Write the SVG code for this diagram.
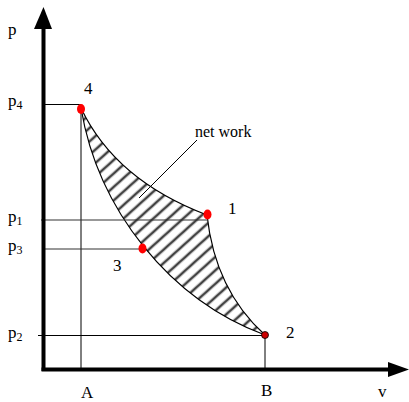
<svg xmlns="http://www.w3.org/2000/svg" width="409" height="402" viewBox="0 0 409 402">
<style>
.t{font-family:"Liberation Serif","Times New Roman",serif;font-size:17px;fill:#000}
.s{font-size:12px}
.thin{stroke:#000;stroke-width:1;fill:none}
.gl{stroke:#333;stroke-width:1.2;fill:none}
.ax{stroke:#000;stroke-width:4;fill:none}
.dot{fill:#f00}
</style>
<defs>
<pattern id="hatch" patternUnits="userSpaceOnUse" width="10" height="10" patternTransform="rotate(-42)">
<rect width="10" height="10" fill="#fff"/>
<line x1="0" y1="5" x2="10" y2="5" stroke="#222" stroke-width="2.6" opacity="0.85"/>
</pattern>
</defs>
<g id="connectors">
<path d="M81,108 C98,210 170,300 265,335 Q215,290 207,215 Q115,180 81,108 Z" fill="url(#hatch)" stroke="#000" stroke-width="1.2"/>
<line class="thin" x1="43" y1="104.5" x2="81" y2="104.5"/>
<line class="thin" x1="81" y1="104.5" x2="81" y2="370"/>
<line class="gl" x1="41" y1="220" x2="207" y2="220"/>
<line class="gl" x1="43" y1="249" x2="143" y2="249"/>
<line class="thin" x1="38" y1="335.5" x2="265" y2="335.5"/>
<line class="thin" x1="265" y1="335.5" x2="265" y2="370"/>
<line class="thin" x1="197" y1="140" x2="139" y2="198"/>
</g>
<g id="axes">
<line class="ax" x1="43.5" y1="371" x2="43.5" y2="26"/>
<polygon points="43.5,7 34,29 52,29" fill="#000"/>
<line class="ax" x1="41.5" y1="369.5" x2="390" y2="369.5"/>
<polygon points="409,369.5 388,362 388,377" fill="#000"/>
</g>
<g id="point4"><ellipse class="dot" cx="81" cy="109" rx="4" ry="5"/><text class="t" x="84" y="94">4</text></g>
<g id="point1"><ellipse class="dot" cx="207.5" cy="214.5" rx="4" ry="5"/><text class="t" x="228" y="214">1</text></g>
<g id="point3"><ellipse class="dot" cx="142.5" cy="248.5" rx="4" ry="5"/><text class="t" x="113" y="271">3</text></g>
<g id="point2"><circle cx="265" cy="335" r="3.5" fill="#c00" stroke="#000" stroke-width="0.8"/><text class="t" x="286" y="338">2</text></g>
<g id="labels">
<text class="t" x="8" y="35">p</text>
<text class="t" x="8" y="106">p<tspan class="s" dy="3">4</tspan></text>
<text class="t" x="8" y="222">p<tspan class="s" dy="3">1</tspan></text>
<text class="t" x="8" y="251">p<tspan class="s" dy="3">3</tspan></text>
<text class="t" x="8" y="338">p<tspan class="s" dy="3">2</tspan></text>
<text class="t" x="81" y="398">A</text>
<text class="t" x="261" y="396">B</text>
<text class="t" x="378" y="397">v</text>
<text class="t" x="195" y="137" style="font-size:16px">net work</text>
</g>
</svg>
